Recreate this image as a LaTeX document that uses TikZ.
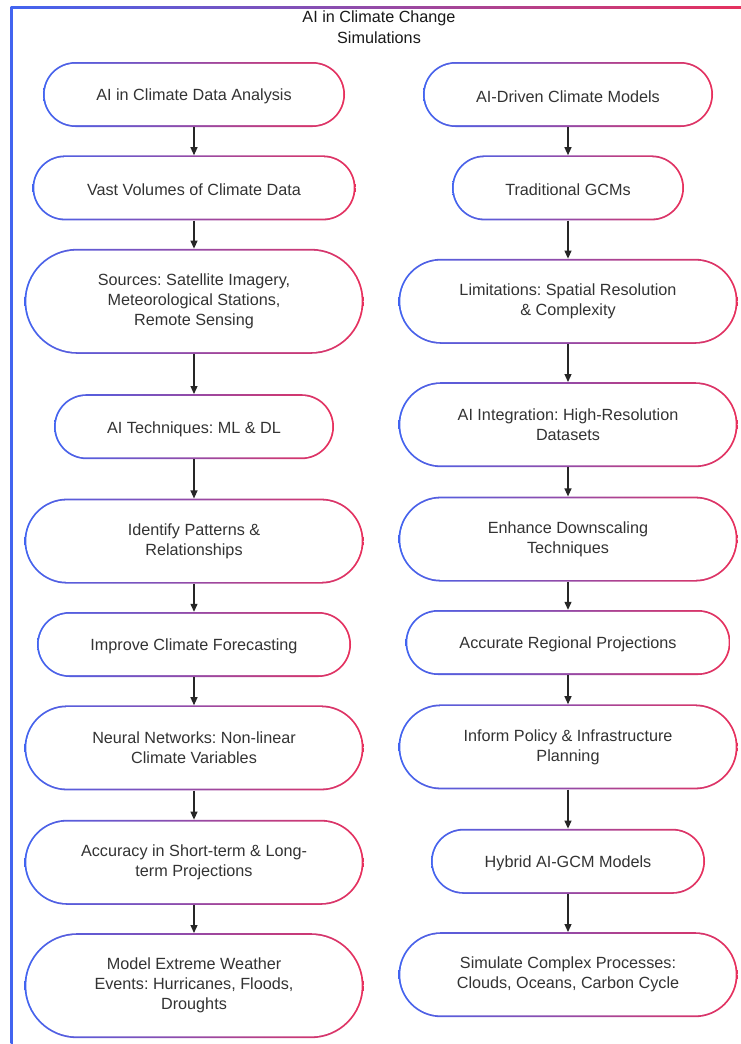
\documentclass[tikz,border=0pt]{standalone}
\usepackage{fontspec}
\setmainfont{Liberation Sans}
\usetikzlibrary{calc,positioning,arrows.meta}
\definecolor{cblue}{RGB}{66,100,240}
\definecolor{cpink}{RGB}{232,48,92}
\definecolor{ink}{RGB}{51,51,51}
\frenchspacing
\tikzset{
  >={Triangle[length=8pt,width=7pt]},
  % gradient outline of the stadium, drawn inside the node box
  rim/.style={path picture={
    \path let \p1=(path picture bounding box.south west),
              \p2=(path picture bounding box.north east),
              \p3=($(\p2)-(\p1)$) in
      [left color=cblue, right color=cpink]
      (\x1+0.5*\y3,\y1) -- (\x2-0.5*\y3,\y1)
        arc[start angle=-90, end angle=90, radius=0.5*\y3]
        -- (\x1+0.5*\y3,\y2)
        arc[start angle=90, end angle=270, radius=0.5*\y3] -- cycle;
    \path let \p1=(path picture bounding box.south west),
              \p2=(path picture bounding box.north east),
              \p3=($(\p2)-(\p1)$) in
      [fill=white]
      (\x1+0.5*\y3,\y1+1.8pt) -- (\x2-0.5*\y3,\y1+1.8pt)
        arc[start angle=-90, end angle=90, radius=0.5*\y3-1.8pt]
        -- (\x1+0.5*\y3,\y2-1.8pt)
        arc[start angle=90, end angle=270, radius=0.5*\y3-1.8pt] -- cycle;
  }},
  box/.style={
    rectangle,
    rim,
    minimum height=65pt,
    inner sep=0pt,
    align=center,
    text=ink,
    font=\fontsize{16.2}{20}\selectfont,
    execute at begin node={\rule{0pt}{16pt}}},
  tall/.style={minimum height=85pt, minimum width=339pt},
  taller/.style={minimum height=105pt, minimum width=339pt},
  line/.style={draw=black!85, line width=1.2pt, ->},
}

\begin{document}
\begin{tikzpicture}[x=1pt, y=-1pt]
  \useasboundingbox (0,0) rectangle (740,1044);
  % outer frame
  \shade[left color=cblue, right color=cpink] (10.5,6.5) rectangle (752,1052);
  \fill[white] (12.7,8.7) rectangle (749.8,1049.8);
  \node[text=black!90, align=center, font=\fontsize{16.2}{21}\selectfont] (title) at (379,27)
    {AI in Climate Change\\ Simulations};
  %% left column
  \node[box, minimum width=302pt] (L1) at (194,94.5) {AI in Climate Data Analysis};
  \node[box, minimum width=323pt, below=28pt of L1] (L2) {Vast Volumes of Climate Data};
  \node[box, taller, below=28pt of L2] (L3) {Sources: Satellite Imagery,\\ Meteorological Stations,\\ Remote Sensing};
  \node[box, minimum width=280pt, below=40pt of L3] (L4) {AI Techniques: ML \& DL};
  \node[box, tall, below=39pt of L4] (L5) {Identify Patterns \&\\ Relationships};
  \node[box, minimum width=314pt, below=28pt of L5] (L6) {Improve Climate Forecasting};
  \node[box, tall, below=28pt of L6] (L7) {Neural Networks: Non-linear\\ Climate Variables};
  \node[box, tall, below=29pt of L7] (L8) {Accuracy in Short-term \& Long-\\ term Projections};
  \node[box, taller, below=28pt of L8] (L9) {Model Extreme Weather\\ Events: Hurricanes, Floods,\\ Droughts};
  %% right column
  \node[box, minimum width=290pt] (R1) at (568,94.5) {AI-Driven Climate Models};
  \node[box, minimum width=232pt, below=28pt of R1] (R2) {Traditional GCMs};
  \node[box, tall, below=38pt of R2] (R3) {Limitations: Spatial Resolution\\ \& Complexity};
  \node[box, tall, below=38pt of R3] (R4) {AI Integration: High-Resolution\\ Datasets};
  \node[box, tall, below=29pt of R4] (R5) {Enhance Downscaling\\ Techniques};
  \node[box, minimum width=325pt, below=28pt of R5] (R6) {Accurate Regional Projections};
  \node[box, tall, below=29pt of R6] (R7) {Inform Policy \& Infrastructure\\ Planning};
  \node[box, minimum width=274pt, below=39pt of R7] (R8) {Hybrid AI-GCM Models};
  \node[box, tall, below=38pt of R8] (R9) {Simulate Complex Processes:\\ Clouds, Oceans, Carbon Cycle};
  % connectors
  \foreach \a/\b in {L1/L2,L2/L3,L3/L4,L4/L5,L5/L6,L6/L7,L7/L8,L8/L9,
                     R1/R2,R2/R3,R3/R4,R4/R5,R5/R6,R6/R7,R7/R8,R8/R9}
    \path[line] (\a.south) -- (\b.north);
\end{tikzpicture}
\end{document}
